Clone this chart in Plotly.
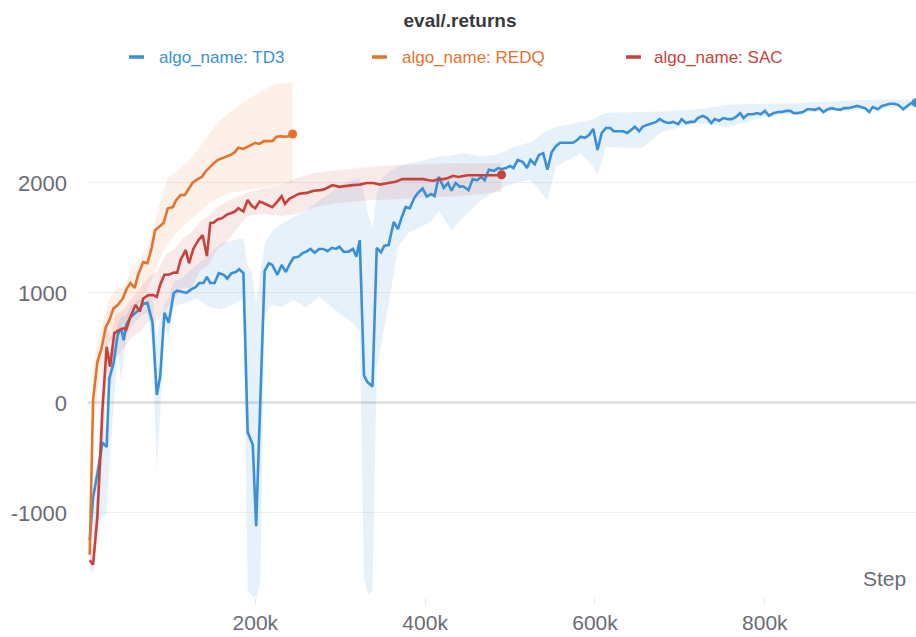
import plotly.graph_objects as go

# ---------------- data (steps in thousands) ----------------
td3_step_k = [5, 9, 15, 20, 25, 28, 33, 38, 42, 45, 48, 53, 59, 64, 68, 73, 79, 84, 88, 93,
              98, 104, 108, 114, 119, 124, 130, 134, 139, 143, 147, 152, 157, 163, 167, 172, 177, 181, 186, 191,
              197, 201, 206, 211, 216, 220, 226, 231, 236, 240, 245, 251, 256, 260, 265, 270, 275, 280, 285, 290,
              295, 299, 304, 310, 315, 319, 323, 328, 332, 338, 343, 348, 352, 357, 363, 368, 372, 377, 382, 387,
              391, 397, 402, 407, 411, 416, 422, 427, 431, 436, 441, 445, 451, 456, 461, 466, 470, 475, 481, 486,
              490, 495, 500, 504, 509, 515, 520, 524, 529, 534, 539, 544, 549, 554, 559, 563, 568, 574, 579, 583,
              588, 593, 598, 603, 608, 613, 618, 622, 627, 633, 638, 642, 647, 652, 656, 662, 667, 672, 676, 682,
              687, 692, 698, 702, 707, 712, 717, 721, 727, 732, 737, 741, 746, 751, 757, 761, 766, 771, 775, 780,
              786, 791, 795, 800, 805, 810, 816, 820, 825, 830, 834, 839, 845, 850, 854, 859, 864, 869, 874, 879,
              884, 889, 893, 898, 904, 909, 913, 918, 923, 927, 933, 938, 943, 947, 952, 957, 963, 968, 972, 978]
td3_mean = [-1250, -860, -600, -360, -400, 220, 360, 620, 680, 570, 710, 780, 820, 855, 900, 910, 730, 73, 240, 820,
            730, 1000, 1020, 1010, 1000, 1030, 1055, 1090, 1090, 1145, 1090, 1090, 1180, 1165, 1130, 1180, 1190, 1215, 1180, -265,
            -380, -1120, 30, 1200, 1270, 1255, 1165, 1255, 1190, 1255, 1320, 1330, 1365, 1375, 1400, 1365, 1400, 1400, 1380, 1410,
            1400, 1420, 1375, 1375, 1400, 1330, 1480, 250, 190, 150, 1410, 1370, 1430, 1435, 1645, 1580, 1680, 1780, 1770, 1860,
            1905, 1950, 1875, 1900, 1880, 2055, 1955, 2000, 1930, 2000, 1965, 1970, 1935, 2035, 2025, 2055, 2025, 2120, 2110, 2135,
            2125, 2135, 2155, 2135, 2210, 2190, 2135, 2210, 2170, 2255, 2270, 2120, 2280, 2335, 2365, 2365, 2365, 2365, 2390, 2420,
            2410, 2435, 2490, 2300, 2455, 2500, 2500, 2470, 2470, 2470, 2455, 2480, 2510, 2470, 2510, 2530, 2545, 2555, 2580, 2555,
            2545, 2555, 2535, 2580, 2545, 2555, 2555, 2590, 2610, 2590, 2545, 2580, 2565, 2590, 2580, 2580, 2600, 2635, 2590, 2625,
            2625, 2635, 2625, 2655, 2610, 2635, 2645, 2645, 2655, 2655, 2635, 2635, 2645, 2670, 2670, 2665, 2680, 2645, 2670, 2680,
            2670, 2665, 2680, 2680, 2690, 2700, 2690, 2680, 2645, 2690, 2670, 2700, 2710, 2720, 2720, 2710, 2670, 2700, 2725, 2730]

td3_band_k = [5, 10, 15, 20, 25, 30, 35, 38, 42, 48, 53, 60, 68, 73, 79, 84, 88, 93, 98, 104,
              115, 130, 145, 160, 175, 186, 191, 196, 201, 206, 211, 220, 230, 245, 260, 275, 290, 305, 315, 323,
              328, 333, 338, 343, 350, 357, 368, 380, 395, 407, 416, 431, 445, 466, 486, 505, 524, 544, 554, 568,
              583, 598, 603, 613, 630, 656, 678, 717, 757, 795, 834, 913, 978]
td3_lo = [-1350, -1200, -1150, -1050, -1000, -350, 150, 450, 200, 600, 680, 750, 800, 820, 500, -620, -100, 700, 600, 880,
          900, 950, 880, 850, 900, 950, -1700, -1750, -1800, -1600, 800, 900, 870, 935, 870, 965, 870, 780, 730, 650,
          -1600, -1750, -1700, 300, 600, 900, 1420, 1545, 1600, 1650, 1750, 1570, 1690, 1845, 1935, 2000, 2030, 1845, 2150, 2210,
          2270, 2145, 2070, 2330, 2320, 2320, 2460, 2545, 2510, 2590, 2635, 2665, 2700]
td3_hi = [-1150, -700, -500, -250, -200, 450, 600, 720, 780, 800, 880, 920, 960, 980, 950, 600, 750, 900, 950, 1100,
          1150, 1250, 1350, 1450, 1480, 1500, 1250, 1200, 900, 1200, 1450, 1560, 1620, 1690, 1750, 1840, 1920, 2000, 2020, 2040,
          1900, 1700, 1600, 1900, 2050, 2100, 2150, 2180, 2200, 2220, 2240, 2250, 2270, 2240, 2260, 2330, 2370, 2480, 2510, 2530,
          2555, 2580, 2600, 2635, 2640, 2645, 2650, 2665, 2710, 2720, 2725, 2755, 2760]

redq_step_k = [5, 9, 14, 19, 24, 28, 33, 38, 44, 48, 53, 58, 62, 68, 73, 78, 82, 87, 92, 97,
               103, 107, 112, 117, 121, 126, 132, 137, 141, 146, 151, 156, 161, 166, 171, 176, 180, 186, 191, 196,
               200, 205, 210, 214, 220, 225, 230, 235, 239, 244]
redq_mean = [-1380, 30, 370, 500, 690, 750, 860, 890, 950, 1030, 1090, 1045, 1165, 1280, 1270, 1410, 1570, 1600, 1635, 1770,
             1780, 1845, 1890, 1890, 1935, 2000, 2035, 2055, 2100, 2145, 2180, 2210, 2225, 2245, 2255, 2280, 2320, 2310, 2330, 2345,
             2365, 2355, 2380, 2380, 2380, 2420, 2425, 2420, 2425, 2445]
redq_band_k = [5, 9, 14, 19, 24, 28, 33, 38, 44, 48, 53, 62, 73, 82, 87, 97, 107, 121, 132, 146,
               156, 171, 191, 210, 225, 244]
redq_lo = [-1400, -300, 100, 300, 450, 550, 600, 650, 700, 750, 800, 900, 1030, 1200, 1300, 1450, 1545, 1650, 1720, 1820,
           1860, 1910, 1935, 1960, 1975, 2000]
redq_hi = [-1300, 300, 550, 700, 850, 950, 1000, 1050, 1050, 1100, 1200, 1300, 1420, 1650, 1800, 2050, 2100, 2200, 2300, 2450,
           2550, 2650, 2760, 2850, 2900, 2910]

sac_step_k = [5, 9, 14, 20, 25, 29, 34, 39, 45, 48, 53, 59, 64, 68, 74, 80, 84, 88, 93, 98,
              104, 108, 112, 118, 122, 127, 133, 138, 143, 147, 151, 156, 161, 166, 171, 176, 180, 186, 191, 196,
              200, 205, 210, 215, 220, 226, 231, 235, 240, 245, 251, 255, 261, 269, 277, 282, 288, 291, 299, 307,
              315, 323, 331, 339, 347, 353, 359, 365, 373, 381, 390, 398, 404, 410, 416, 422, 427, 433, 439, 444,
              450, 456, 462, 468, 474, 480, 485, 490]
sac_mean = [-1430, -1470, -1040, -60, 510, 330, 635, 660, 680, 665, 785, 890, 830, 950, 980, 980, 965, 1075, 1165, 1165,
            1185, 1185, 1300, 1390, 1270, 1400, 1480, 1525, 1335, 1635, 1640, 1670, 1680, 1710, 1725, 1740, 1770, 1740, 1845, 1790,
            1770, 1830, 1815, 1795, 1780, 1830, 1880, 1810, 1855, 1875, 1900, 1905, 1910, 1930, 1935, 1945, 1965, 1980, 1965, 1975,
            1980, 1985, 2000, 2000, 1985, 1995, 2000, 2010, 2035, 2035, 2035, 2035, 2025, 2020, 2035, 2035, 2045, 2065, 2055, 2065,
            2070, 2070, 2070, 2065, 2070, 2065, 2070, 2075]
sac_band_k = [5, 9, 14, 20, 25, 30, 35, 45, 55, 65, 75, 85, 95, 105, 115, 125, 135, 145, 155, 165,
              175, 190, 210, 230, 250, 270, 300, 330, 360, 400, 440, 470, 490]
sac_lo = [-1500, -1550, -1200, -500, 200, 150, 400, 500, 600, 650, 750, 750, 850, 950, 1050, 1050, 1200, 1250, 1400, 1450,
          1550, 1700, 1720, 1700, 1720, 1780, 1820, 1840, 1850, 1870, 1880, 1900, 1920]
sac_hi = [-1350, -1300, -800, 300, 700, 600, 800, 850, 950, 1050, 1150, 1200, 1350, 1400, 1500, 1550, 1650, 1700, 1780, 1820,
          1860, 1910, 1950, 1980, 2050, 2090, 2120, 2140, 2160, 2170, 2180, 2180, 2180]

series_names = ["algo_name: TD3", "algo_name: REDQ", "algo_name: SAC"]
x_tick_vals = [200000, 400000, 600000, 800000]
x_tick_text = ["200k", "400k", "600k", "800k"]
y_tick_vals = [-1000, 0, 1000, 2000]
y_tick_text = ["-1000", "0", "1000", "2000"]

# ---------------- styling ----------------
FONT = "Liberation Sans, Arial, Helvetica, sans-serif"
line_colors = ["#3a8fd9", "#e6722c", "#c8423c"]
band_colors = ["rgba(58,143,217,0.12)", "rgba(230,114,44,0.11)", "rgba(200,66,60,0.11)"]

series = [
    (td3_step_k, td3_mean, td3_band_k, td3_lo, td3_hi),
    (redq_step_k, redq_mean, redq_band_k, redq_lo, redq_hi),
    (sac_step_k, sac_mean, sac_band_k, sac_lo, sac_hi),
]

fig = go.Figure()

for i, (sk, mean, bk, lo, hi) in enumerate(series):
    bx = [k * 1000 for k in bk]
    fig.add_trace(go.Scatter(x=bx, y=hi, mode="lines", line=dict(width=0),
                             hoverinfo="skip", showlegend=False))
    fig.add_trace(go.Scatter(x=bx, y=lo, mode="lines", line=dict(width=0),
                             fill="tonexty", fillcolor=band_colors[i],
                             hoverinfo="skip", showlegend=False))

for i, (sk, mean, bk, lo, hi) in enumerate(series):
    x = [k * 1000 for k in sk]
    fig.add_trace(go.Scatter(x=x, y=mean, mode="lines", name=series_names[i],
                             line=dict(color=line_colors[i], width=2.6),
                             showlegend=False))
    fig.add_trace(go.Scatter(x=[x[-1]], y=[mean[-1]], mode="markers",
                             marker=dict(color=line_colors[i], size=9),
                             hoverinfo="skip", showlegend=False))

# plot area: left 88px, right 916px, top 80px, bottom 597px
L, R, T, B = 88, 916, 80, 597
def px(xp):
    return (xp - L) / (R - L)
def py(yp):
    return (B - yp) / (B - T)

legend_items = [(129, 157), (372, 400), (626, 652)]
shapes = []
annotations = []
for i, (dx, tx) in enumerate(legend_items):
    shapes.append(dict(type="line", xref="paper", yref="paper",
                       x0=px(dx), x1=px(dx + 15), y0=py(57), y1=py(57),
                       line=dict(color=line_colors[i], width=3.5)))
    annotations.append(dict(text=series_names[i], xref="paper", yref="paper",
                            x=px(tx), y=py(57), xanchor="left", yanchor="middle",
                            showarrow=False,
                            font=dict(family=FONT, size=17, color=line_colors[i])))
annotations.append(dict(text="Step", xref="paper", yref="paper",
                        x=px(908), y=py(578), xanchor="right", yanchor="middle",
                        showarrow=False, font=dict(family=FONT, size=21, color="#6b6b76")))

fig.update_layout(
    width=916, height=637,
    margin=dict(l=L, r=916 - R, t=T, b=637 - B, autoexpand=False),
    paper_bgcolor="white", plot_bgcolor="white",
    title=dict(text="<b>eval/.returns</b>", x=460 / 916, xanchor="center",
               y=1 - 20 / 637, yanchor="middle", yref="container",
               font=dict(family=FONT, size=19, color="#3a3a3e")),
    shapes=shapes, annotations=annotations,
    showlegend=False,
)
fig.update_xaxes(range=[3000, 978000], showgrid=False, zeroline=False, automargin=False,
                 tickvals=x_tick_vals, ticktext=x_tick_text,
                 ticks="outside", ticklen=7, tickcolor="#e6e6e6", tickwidth=1,
                 showline=False,
                 tickfont=dict(family=FONT, size=21, color="#6b6b76"))
fig.update_yaxes(range=[-1764, 2936], showgrid=True, gridcolor="#efefef", gridwidth=1,
                 zeroline=True, zerolinecolor="#e2e2e2", zerolinewidth=3, automargin=False,
                 tickvals=y_tick_vals, ticktext=y_tick_text, ticks="",
                 ticklabelstandoff=20, showline=False,
                 tickfont=dict(family=FONT, size=22, color="#6b6b76"))

fig.write_html("out.html", config={"displayModeBar": False},
               post_script="document.body.style.margin='0';document.body.style.overflow='hidden';")
